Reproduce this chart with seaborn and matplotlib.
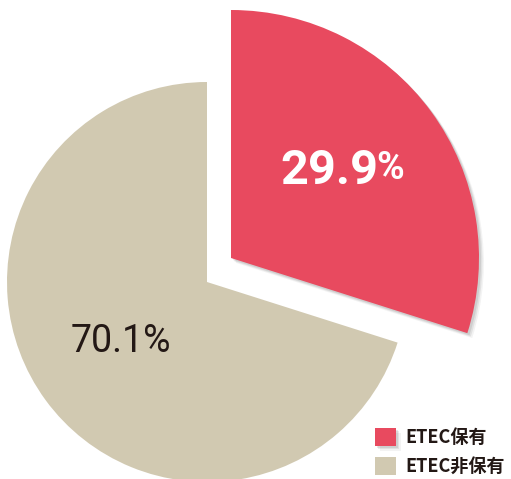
import matplotlib
matplotlib.use("Agg")
import matplotlib.pyplot as plt
import matplotlib.patheffects as pe
from matplotlib.font_manager import FontProperties
import seaborn as sns

# Share of ETEC holders
categories = ["ETEC保有", "ETEC非保有"]
shares = [29.9, 70.1]
palette = ["#E84A5F", "#D1C9B1"]

sns.set_theme(style="white")
plt.rcParams["font.family"] = ["Noto Sans CJK JP", "DejaVu Sans"]

W, H = 511, 479
fig = plt.figure(figsize=(W / 100, H / 100), dpi=100)
ax = fig.add_axes([0, 0, 1, 1])

# base pie: only the larger (non-holder) slice is visible
base_center = (207, 197)
base_r = 200
wedges_base, _ = ax.pie(
    shares, startangle=90, counterclock=False, radius=base_r,
    center=base_center, colors=["none", palette[1]],
    wedgeprops=dict(linewidth=0),
)

# highlighted slice: pulled out and drawn with a larger radius
hi_center = (231, 221)
hi_r = 248
wedges_hi, _ = ax.pie(
    shares, startangle=90, counterclock=False, radius=hi_r,
    center=hi_center, colors=[palette[0], "none"],
    wedgeprops=dict(linewidth=0),
)
wedges_hi[0].set_path_effects([
    pe.SimplePatchShadow(offset=(3.5, -3.5), shadow_rgbFace="#666666", alpha=0.08),
    pe.SimplePatchShadow(offset=(2.5, -2.5), shadow_rgbFace="#666666", alpha=0.12),
    pe.SimplePatchShadow(offset=(1.5, -1.5), shadow_rgbFace="#666666", alpha=0.15),
    pe.Normal(),
])
wedges_hi[1].set_visible(False)
wedges_base[0].set_visible(False)

# value labels
num = ax.text(329, 479 - 184, f"{shares[0]:.1f}", color="white",
              fontsize=35, fontweight="bold", family=["Roboto", "DejaVu Sans"],
              ha="center", va="baseline")
ax.annotate("%", xy=(1, 0), xycoords=num, xytext=(-1, 5),
            textcoords="offset points", color="white", fontsize=27,
            fontweight="bold", family=["Roboto", "DejaVu Sans"],
            ha="left", va="bottom")
ax.text(121, 479 - 352, f"{shares[1]:.1f}%", color="#231815",
        fontsize=27, fontweight="normal",
        family=["Roboto", "DejaVu Sans"],
        ha="center", va="baseline")

ax.set_xlim(0, W)
ax.set_ylim(0, H)
ax.set_aspect("equal")
ax.axis("off")

leg = ax.legend(
    [wedges_hi[0], wedges_base[1]], categories,
    loc="upper left", bbox_to_anchor=(375 / W, 1 - 428 / H),
    bbox_transform=fig.transFigure, frameon=False, borderpad=0,
    borderaxespad=0, handlelength=1.15, handleheight=1.15,
    handletextpad=0.55, labelspacing=0.55,
    prop=FontProperties(family=["Noto Sans CJK JP", "DejaVu Sans"],
                        weight="bold", size=13),
)
for t in leg.get_texts():
    t.set_color("#231815")

fig.savefig("out.png", dpi=100)
